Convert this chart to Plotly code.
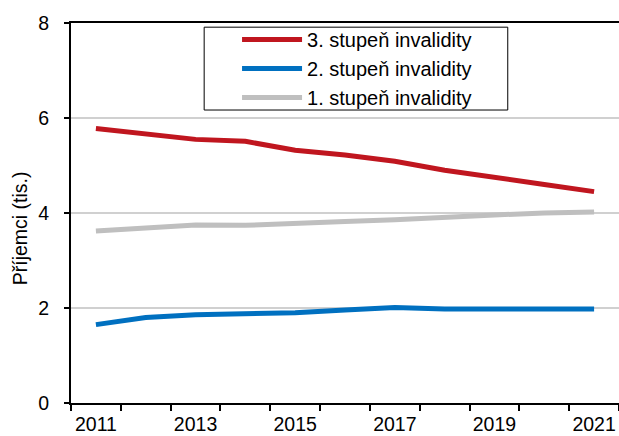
import plotly.graph_objects as go

# Příjemci invalidních důchodů podle stupně (tis.)
years = [str(y) for y in range(2011, 2022)]
tick_text = ["2011", "", "2013", "", "2015", "", "2017", "", "2019", "", "2021"]

stupen3 = [5.78, 5.66, 5.55, 5.51, 5.32, 5.22, 5.09, 4.90, 4.76, 4.60, 4.45]
stupen2 = [1.65, 1.80, 1.86, 1.88, 1.90, 1.96, 2.01, 1.98, 1.98, 1.96, 1.98]
stupen1 = [3.62, 3.68, 3.75, 3.74, 3.79, 3.82, 3.86, 3.92, 3.96, 4.00, 4.02]

series = [
    ("3. stupeň invalidity", stupen3, "#C0161F"),
    ("2. stupeň invalidity", stupen2, "#0070C0"),
    ("1. stupeň invalidity", stupen1, "#BFBFBF"),
]

FONT = "Liberation Sans, Arial, sans-serif"
FS = 19.5

fig = go.Figure()
for name, vals, color in series:
    fig.add_trace(go.Scatter(
        x=years, y=vals, mode="lines", name=name,
        line=dict(color=color, width=5),
    ))

# rámeček legendy
fig.add_shape(
    type="rect", xref="paper", yref="paper",
    x0=0.243, x1=0.797, y0=0.771, y1=0.989,
    line=dict(color="black", width=1), fillcolor="white", layer="above",
)

fig.add_annotation(
    text="Příjemci (tis.)", xref="paper", yref="paper",
    x=-0.093, y=0.46, xanchor="center", yanchor="middle",
    textangle=-90, showarrow=False, font=dict(size=FS),
)

fig.update_layout(
    width=619, height=436,
    paper_bgcolor="white", plot_bgcolor="white",
    font=dict(family=FONT, size=FS, color="black"),
    margin=dict(l=71, r=0, t=23, b=33),
    showlegend=True,
    legend=dict(
        x=0.303, y=1.008, xanchor="left", yanchor="top",
        bgcolor="rgba(0,0,0,0)", borderwidth=0,
        font=dict(size=20),
        itemwidth=60,
        traceorder="normal",
    ),
    xaxis=dict(
        type="category", tickmode="array", tickvals=years, ticktext=tick_text,
        tickson="boundaries", ticks="outside", ticklen=6, tickwidth=1.5,
        tickcolor="black", showline=True, linecolor="black", linewidth=2,
        mirror=True, showgrid=False, range=[-0.5, 10.5],
        tickangle=0, automargin=False, ticklabelstandoff=3,
    ),
    yaxis=dict(
        range=[0, 8], dtick=2, ticks="outside", ticklen=5, tickwidth=1.5,
        tickcolor="black", showline=True, linecolor="black", linewidth=2,
        showgrid=True, gridcolor="#D0D0D0", gridwidth=1.5, zeroline=False,
        ticklabelstandoff=11, automargin=False,
    ),
)

fig.write_html(
    "out.html",
    config={"displayModeBar": False},
    post_script="document.body.style.margin='0';",
)
